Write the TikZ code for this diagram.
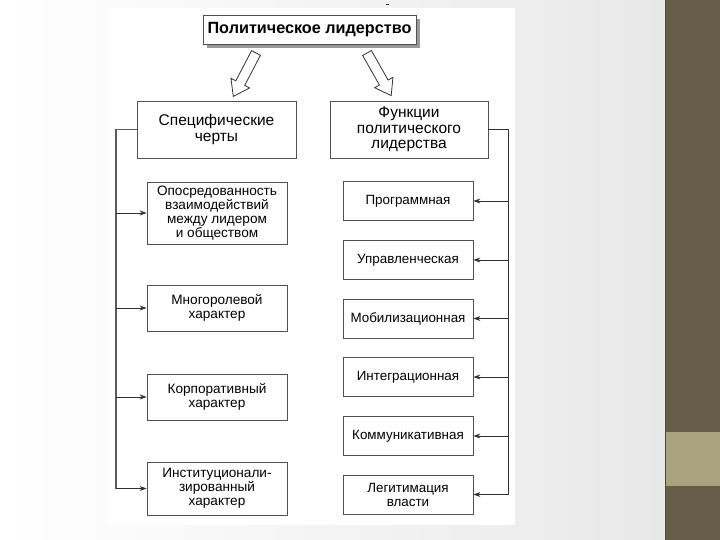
\documentclass[tikz,border=0pt]{standalone}
\usepackage{fontspec}
\setmainfont{Liberation Sans}
\usetikzlibrary{arrows.meta}
\definecolor{strip}{RGB}{101,93,72}
\definecolor{tan}{RGB}{169,164,126}
\definecolor{ln}{RGB}{50,50,50}
\tikzset{
  box/.style={draw=ln!85, line width=0.8pt, fill=white, align=center, inner sep=2pt},
  itemL/.style={box, minimum width=140pt, font=\fontsize{13.6}{14}\selectfont},
  itemR/.style={box, minimum width=130pt, minimum height=39pt, font=\fontsize{13.4}{14}\selectfont},
  head/.style={box, minimum height=57pt, font=\fontsize{15.5}{15.5}\selectfont},
  conn/.style={draw=ln, line width=0.8pt, -{Stealth[length=7pt,width=5pt]}},
  busL/.style={draw=ln!80, line width=1.5pt},
  blockarrow/.style={draw=ln, line width=0.8pt, fill=white, line join=miter}
}
\begin{document}
\begin{tikzpicture}[x=1pt,y=-1pt]
\useasboundingbox (0,0) rectangle (720,540);
% background
\shade[left color=white, right color=black!9] (0,0) rectangle (665,540);
\fill[white] (108,8) rectangle (515,525);
\fill[strip] (665,0) rectangle (720,540);
\draw[strip!80!black, line width=1pt] (665.5,0) -- (665.5,540);
\fill[tan] (666,432) rectangle (720,486);
\draw[ln, line width=0.7pt] (386,4.5) -- (389,4.5);

% top box with shadow
\fill[black!40] (207,19) rectangle (420,48);
\node[box, minimum width=213pt, minimum height=29pt, font=\fontsize{16.2}{18}\selectfont\bfseries] (top) at (309.5,29.5) {Политическое лидерство};

% headers
\node[head, minimum width=159pt] (lh) at (216.5,129.5) {Специфические\\черты};
\node[head, minimum width=158pt] (rh) at (409,129.5) {Функции\\политического\\лидерства};

% left items
\node[itemL, minimum height=62pt] (l1) at (217,213) {Опосредованность\\взаимодействий\\между лидером\\и обществом};
\node[itemL, minimum height=46pt] (l2) at (217,308) {Многоролевой\\характер};
\node[itemL, minimum height=46pt] (l3) at (217,397) {Корпоративный\\характер};
\node[itemL, minimum height=53pt] (l4) at (217,488.5) {Институционали-\\зированный\\характер};

% right items
\node[itemR] (r1) at (408,201) {Программная};
\node[itemR] (r2) at (408,260) {Управленческая};
\node[itemR] (r3) at (408,318.5) {Мобилизационная};
\node[itemR] (r4) at (408,377) {Интеграционная};
\node[itemR] (r5) at (408,436) {Коммуникативная};
\node[itemR] (r6) at (408,494.5) {Легитимация\\власти};

% buses
\coordinate (lbus) at (116,0);
\coordinate (rbus) at (508,0);
\draw[busL] (lh.west) -| (lbus |- l4.west);
\foreach \n in {l1,l2,l3,l4}
  \draw[conn] (lbus |- \n.west) -- (\n.west);
\draw[draw=ln, line width=1pt] (rh.east) -| (rbus |- r6.east);
\foreach \n in {r1,r2,r3,r4,r5,r6}
  \draw[conn] (rbus |- \n.east) -- (\n.east);

% hollow block arrows
\coordinate (la) at (256,53);
\coordinate (ra) at (367,53);
\begin{scope}[shift={(la)}, rotate=-117.6]
  \draw[blockarrow] (0,-5) -- (34,-5) -- (34,-10.5) -- (49,0) -- (34,10.5) -- (34,5) -- (0,5) -- cycle;
\end{scope}
\begin{scope}[shift={(ra)}, rotate=-60.4]
  \draw[blockarrow] (0,-5) -- (34,-5) -- (34,-10.5) -- (49,0) -- (34,10.5) -- (34,5) -- (0,5) -- cycle;
\end{scope}
\end{tikzpicture}
\end{document}
